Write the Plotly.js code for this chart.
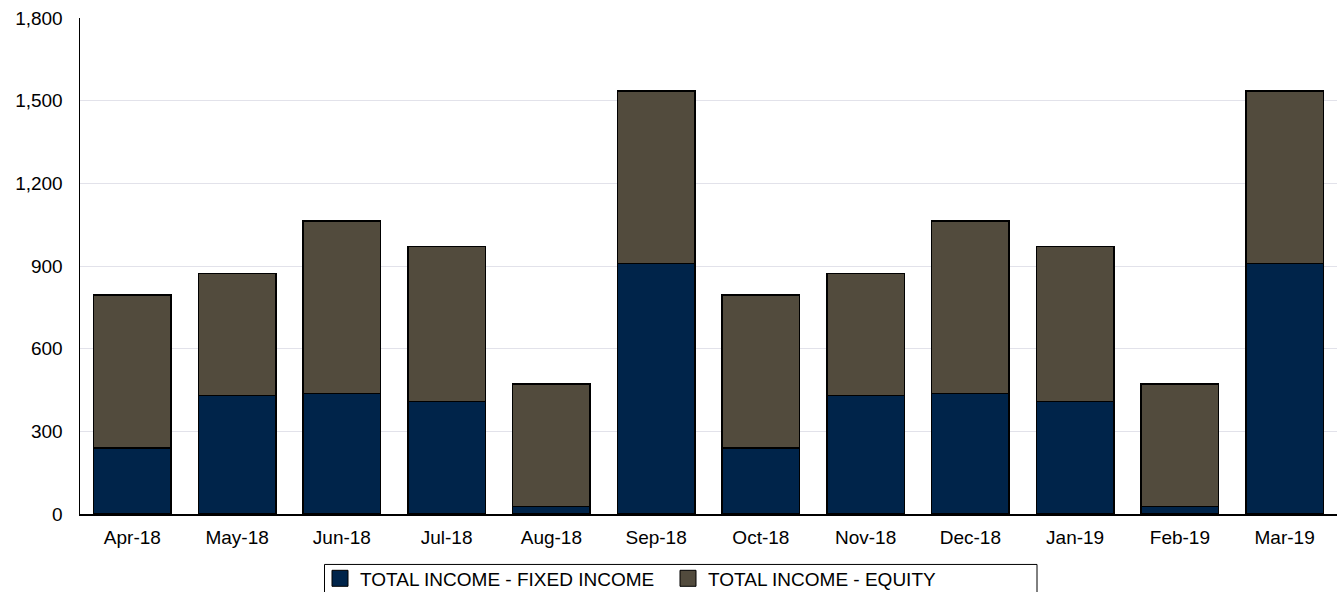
<!DOCTYPE html>
<html>
<head>
<meta charset="utf-8">
<script src="https://cdn.plot.ly/plotly-3.0.1.min.js"></script>
<style>html,body{margin:0;padding:0;background:#fff;}#chart{width:1337px;height:592px;}</style>
</head>
<body>
<div id="chart"></div>
<script>
var months = ["Apr-18","May-18","Jun-18","Jul-18","Aug-18","Sep-18","Oct-18","Nov-18","Dec-18","Jan-19","Feb-19","Mar-19"];
var fixedIncome = [240, 430, 438, 408, 28, 909, 240, 430, 438, 408, 28, 909];
var equity = [555, 443, 625, 563, 444, 626, 555, 443, 625, 563, 444, 626];
var seriesNames = ["TOTAL INCOME - FIXED INCOME", "TOTAL INCOME - EQUITY"];
var seriesColors = ["#00244A", "#524B3D"];
var yTicks = [0, 300, 600, 900, 1200, 1500, 1800];
var yTickLabels = ["0", "300", "600", "900", "1,200", "1,500", "1,800"];

var seriesValues = [fixedIncome, equity];
var traces = [];
seriesValues.forEach(function(vals, i){
  traces.push({type:'bar', name:seriesNames[i], x:months, y:vals, showlegend:false,
    marker:{color:seriesColors[i], line:{color:'#000', width:1.3}}, width:0.74});
});
// legend entries with larger square swatches
seriesNames.forEach(function(nm, i){
  traces.push({type:'scatter', mode:'markers', name:nm, x:[months[0]], y:[null], showlegend:true,
    hoverinfo:'skip',
    marker:{symbol:'square', size:16, color:seriesColors[i], line:{color:'#000', width:1}}});
});

var plotL = 80, plotW = 1257, plotB = 514.5, plotH = 496.5;
function px2x(p){ return (p - plotL) / plotW; }
function px2y(p){ return (plotB - p) / plotH; }

var layout = {
  width:1337, height:592, barmode:'stack',
  margin:{l:80, r:0, t:18, b:77.5, autoexpand:false},
  paper_bgcolor:'#fff', plot_bgcolor:'#fff',
  font:{family:'Liberation Sans, Arial, sans-serif', size:19, color:'#000'},
  showlegend:true,
  legend:{orientation:'h', x:px2x(320), xanchor:'left', y:px2y(560), yanchor:'top',
          bgcolor:'rgba(0,0,0,0)', borderwidth:0, font:{size:19, color:'#000'}, traceorder:'normal',
          itemsizing:'trace', entrywidth:303, entrywidthmode:'pixels'},
  shapes:[{type:'rect', xref:'paper', yref:'paper', x0:px2x(324.5), x1:px2x(1037), y0:px2y(565), y1:px2y(605),
           line:{color:'#000', width:1}, fillcolor:'rgba(0,0,0,0)', layer:'below'}],
  xaxis:{type:'category', range:[-0.5, 11.5], showline:true, linecolor:'#000', linewidth:1.5,
         ticks:'outside', ticklen:6, tickcolor:'rgba(0,0,0,0)', showgrid:false, fixedrange:true},
  yaxis:{range:[0,1800], tickvals:yTicks, ticktext:yTickLabels, showline:true, linecolor:'#000', linewidth:1.5,
         gridcolor:'#e2e2ea', gridwidth:1, zeroline:false,
         ticks:'outside', ticklen:12, tickcolor:'rgba(0,0,0,0)', fixedrange:true}
};
Plotly.newPlot('chart', traces, layout, {displayModeBar:false, staticPlot:true});
</script>
</body>
</html>
